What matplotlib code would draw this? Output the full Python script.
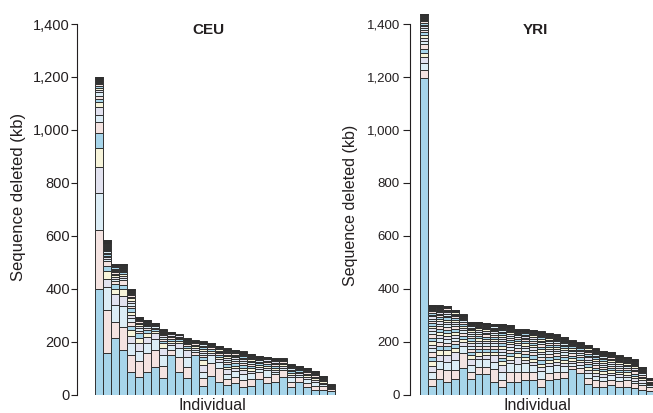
import matplotlib
matplotlib.use("Agg")
import matplotlib.pyplot as plt
import numpy as np

plt.rcParams['font.family'] = ['Liberation Sans', 'DejaVu Sans']

# deletion sizes (kb) per individual, stacked from the bottom up
ceu_segments = [
    [400, 220, 141, 98, 73, 55, 41, 28, 29, 19, 13, 12, 13, 10, 8, 7, 6, 5, 4, 4, 3, 3, 2, 2, 2, 1, 1],
    [158, 161, 87, 32, 29, 19, 18, 8, 7, 6, 6, 5, 5, 5, 4, 4, 4, 3, 3, 3, 3, 3, 2, 2, 2, 2, 2, 1, 1],
    [214, 61, 62, 42, 19, 21, 9, 8, 7, 7, 6, 6, 5, 5, 4, 4, 3, 3, 3, 2, 2, 1, 1],
    [170, 86, 78, 37, 26, 18, 19, 8, 7, 6, 6, 5, 5, 4, 4, 3, 3, 3, 2, 2, 2, 1],
    [86, 63, 46, 25, 23, 15, 16, 14, 13, 12, 12, 11, 10, 9, 8, 7, 6, 5, 4, 4, 3, 3, 2, 2, 1],
    [65, 61, 38, 29, 19, 19, 10, 9, 8, 7, 6, 5, 4, 4, 3, 2, 2, 1, 1],
    [86, 72, 35, 25, 15, 9, 8, 7, 6, 5, 4, 3, 3, 2, 1],
    [105, 65, 38, 23, 8, 7, 6, 5, 4, 3, 3, 2, 1, 1],
    [63, 44, 42, 25, 19, 9, 8, 7, 6, 5, 5, 4, 3, 3, 2, 1],
    [149, 21, 17, 9, 8, 7, 6, 5, 5, 4, 3, 2, 1],
    [86, 57, 31, 19, 8, 7, 6, 5, 4, 2, 1, 1],
    [61, 44, 38, 25, 8, 7, 6, 6, 5, 4, 3, 2, 2, 1],
    [149, 12, 8, 7, 6, 6, 5, 4, 3, 2, 2, 1],
    [33, 28, 25, 25, 19, 10, 9, 8, 8, 7, 6, 6, 5, 4, 3, 2, 2, 1],
    [70, 48, 31, 9, 8, 7, 6, 5, 4, 3, 2, 1, 1],
    [48, 51, 25, 9, 8, 7, 7, 6, 5, 5, 4, 3, 3, 2, 1],
    [36, 21, 19, 19, 10, 9, 8, 8, 7, 7, 6, 6, 5, 4, 3, 2, 2, 1, 1],
    [45, 22, 23, 10, 9, 9, 8, 7, 7, 6, 5, 5, 4, 3, 3, 2, 1, 1],
    [29, 26, 21, 16, 10, 9, 8, 7, 7, 6, 6, 5, 4, 3, 2, 2, 1, 1],
    [32, 25, 23, 10, 9, 8, 8, 7, 6, 6, 5, 4, 4, 3, 2, 1],
    [57, 29, 9, 8, 8, 7, 6, 5, 5, 4, 3, 2, 1, 1],
    [42, 25, 25, 9, 8, 7, 6, 6, 5, 4, 3, 2, 1],
    [48, 28, 9, 8, 8, 7, 6, 6, 5, 4, 3, 2, 2, 1],
    [67, 25, 8, 7, 7, 6, 5, 4, 3, 2, 2, 1],
    [29, 19, 19, 8, 7, 6, 6, 5, 4, 4, 3, 2, 1, 1],
    [48, 17, 8, 7, 6, 5, 5, 4, 3, 2, 1, 1],
    [29, 16, 15, 7, 6, 6, 5, 5, 4, 3, 2, 1, 1],
    [17, 15, 16, 7, 6, 6, 5, 5, 4, 3, 2, 2, 1],
    [17, 15, 7, 6, 5, 5, 4, 4, 3, 2, 1, 1],
    [13, 8, 5, 4, 3, 2, 2, 1],
]

yri_segments = [
    [1195, 32, 24, 23, 18, 15, 17, 12, 12, 11, 9, 8, 8, 7, 7, 6, 6, 5, 5, 4, 4, 3, 3, 2, 1, 1, 1],
    [32, 25, 29, 21, 19, 17, 16, 15, 14, 14, 13, 12, 12, 11, 10, 10, 9, 8, 8, 7, 6, 6, 5, 4, 4, 3, 3, 2, 2, 1, 1, 1],
    [57, 38, 32, 22, 21, 15, 14, 13, 12, 12, 11, 10, 10, 9, 8, 8, 7, 6, 6, 5, 4, 4, 3, 3, 2, 2, 1, 1, 1],
    [46, 46, 32, 25, 19, 14, 14, 13, 12, 12, 11, 11, 10, 9, 9, 8, 7, 7, 6, 5, 5, 4, 3, 3, 2, 1, 1],
    [57, 35, 38, 31, 14, 14, 13, 12, 12, 11, 10, 10, 9, 8, 8, 7, 6, 6, 5, 4, 4, 3, 2, 1, 1],
    [99, 56, 28, 16, 12, 11, 10, 10, 9, 8, 8, 7, 6, 5, 5, 4, 3, 2, 2, 1, 1],
    [57, 29, 25, 25, 13, 12, 12, 11, 10, 10, 9, 8, 8, 7, 6, 6, 5, 5, 4, 3, 3, 2, 2, 1, 1, 1],
    [76, 27, 30, 14, 13, 12, 11, 11, 10, 9, 9, 8, 7, 7, 6, 5, 5, 4, 3, 3, 2, 2, 1],
    [76, 27, 33, 13, 12, 11, 11, 10, 9, 9, 8, 8, 7, 6, 6, 5, 4, 4, 3, 3, 2, 2, 1, 1],
    [48, 47, 29, 25, 12, 11, 11, 10, 9, 9, 8, 7, 7, 6, 5, 5, 4, 4, 3, 2, 2, 1, 1, 1, 1],
    [29, 26, 31, 25, 14, 13, 12, 12, 11, 10, 10, 9, 8, 8, 7, 6, 6, 5, 5, 4, 3, 3, 2, 2, 1, 1, 1, 1, 1],
    [46, 40, 32, 14, 13, 12, 11, 11, 10, 9, 9, 8, 7, 7, 6, 5, 5, 4, 3, 3, 2, 2, 1, 1, 1],
    [46, 40, 30, 27, 12, 11, 10, 10, 9, 8, 7, 7, 6, 5, 5, 4, 3, 2, 2, 1, 1],
    [54, 32, 32, 13, 12, 11, 11, 10, 9, 9, 8, 7, 7, 6, 5, 5, 4, 3, 3, 2, 1, 1, 1],
    [55, 31, 25, 13, 12, 12, 11, 10, 10, 9, 8, 8, 7, 6, 6, 5, 4, 4, 3, 2, 1, 1, 1],
    [29, 28, 33, 14, 13, 12, 12, 11, 10, 10, 9, 8, 8, 7, 6, 6, 5, 4, 4, 3, 2, 2, 1, 1, 1],
    [55, 27, 25, 13, 12, 11, 10, 10, 9, 8, 8, 7, 6, 6, 5, 4, 4, 3, 2, 2, 1, 1, 1, 1],
    [57, 29, 25, 12, 11, 11, 10, 9, 9, 8, 7, 7, 6, 5, 5, 4, 3, 3, 2, 1, 1, 1, 1],
    [61, 25, 21, 12, 11, 10, 10, 9, 8, 8, 7, 6, 6, 5, 4, 4, 3, 2, 2, 1, 1, 1, 1],
    [95, 12, 11, 10, 10, 9, 8, 8, 7, 6, 6, 5, 4, 4, 3, 2, 2, 1, 1, 1],
    [82, 17, 11, 11, 10, 9, 8, 8, 7, 6, 6, 5, 4, 4, 3, 2, 1, 1, 1, 1],
    [40, 21, 21, 11, 11, 10, 9, 9, 8, 7, 7, 6, 5, 5, 4, 3, 3, 2, 2, 1, 1, 1],
    [27, 28, 15, 11, 10, 10, 9, 9, 8, 7, 7, 6, 6, 5, 4, 4, 3, 2, 1, 1, 1],
    [27, 24, 16, 10, 10, 9, 9, 8, 7, 7, 6, 6, 5, 4, 4, 3, 3, 2, 1, 1, 1, 1],
    [36, 19, 17, 10, 9, 9, 8, 8, 7, 6, 6, 5, 4, 4, 3, 3, 2, 1, 1, 1, 1],
    [27, 24, 16, 9, 9, 8, 8, 7, 7, 6, 5, 5, 4, 4, 3, 2, 1, 1, 1, 1],
    [27, 28, 10, 10, 9, 8, 7, 7, 6, 6, 5, 4, 4, 3, 3, 2, 1, 1, 1, 1],
    [23, 19, 10, 10, 9, 8, 8, 7, 6, 6, 5, 5, 4, 3, 3, 2, 2, 1, 1, 1],
    [17, 19, 9, 8, 8, 7, 6, 6, 5, 5, 4, 3, 3, 2, 1, 1, 1],
    [13, 16, 6, 5, 5, 4, 4, 3, 2, 2, 1, 1, 1],
]

panel_titles = ['CEU', 'YRI']
y_ticks = [0, 200, 400, 600, 800, 1000, 1200, 1400]

seg_colors = ['#a7d5ea', '#f4e3e1', '#dcedf6', '#e2e2ef', '#f7f4da']
edge = '#303030'
txt = '#231f20'

W, H = 653, 413
fig = plt.figure(figsize=(W / 100, H / 100), dpi=100)

kb_px = (394.5 - 24) / 1400
y_top = 1480
base = 413 - 394.5


def px_axes(left, right):
    return fig.add_axes([left / W, base / H, (right - left) / W, y_top * kb_px / H])


def draw_stacks(ax, segments):
    for i, segs in enumerate(segments):
        segs = np.array(segs, dtype=float)
        bottoms = np.concatenate([[0], np.cumsum(segs)[:-1]])
        cols = [seg_colors[k % len(seg_colors)] if s >= 3 else '#6a6a6a'
                for k, s in enumerate(segs)]
        ax.bar(np.full(len(segs), i), segs, bottom=bottoms, width=1.0,
               color=cols, edgecolor=edge, linewidth=0.7)


def style(ax, fs, tick_len, pad):
    for s in ['top', 'right', 'bottom']:
        ax.spines[s].set_visible(False)
    ax.spines['left'].set_bounds(0, 1400)
    ax.spines['left'].set_linewidth(0.8)
    ax.spines['left'].set_color(txt)
    ax.set_ylim(0, y_top)
    ax.set_yticks(y_ticks)
    ax.set_yticklabels([f'{v:,}' for v in y_ticks])
    ax.tick_params(axis='y', length=tick_len, width=0.8, color=txt,
                   labelsize=fs, labelcolor=txt, pad=pad)
    ax.set_xticks([])
    ax.patch.set_alpha(0)


# CEU panel: spine at x=77px, bars start at 95px, 8px pitch
ax1 = px_axes(77, 345)
ax1.set_xlim(-0.5 - 18 / 8, -0.5 - 18 / 8 + 268 / 8)
draw_stacks(ax1, ceu_segments)
style(ax1, 10.5, 4, 1)

# YRI panel: spine at x=409.5px, bars start at 420px, 7.8px pitch
ax2 = px_axes(409.5, 653)
ax2.set_xlim(-0.5 - 10.5 / 7.8, -0.5 - 10.5 / 7.8 + 243.5 / 7.8)
draw_stacks(ax2, yri_segments)
style(ax2, 9.5, 5, 2)


def ftext(x, y, s, **kw):
    fig.text(x / W, 1 - y / H, s, color=txt, ha='center', va='center', **kw)


ftext(208, 30, panel_titles[0], fontsize=11, fontweight='bold')
ftext(535, 30, panel_titles[1], fontsize=11, fontweight='bold')
ftext(212, 405, 'Individual', fontsize=11.5)
ftext(537, 405, 'Individual', fontsize=11.5)
ftext(19, 197, 'Sequence deleted (kb)', fontsize=12, rotation=90)
ftext(350, 205, 'Sequence deleted (kb)', fontsize=11.5, rotation=90)

fig.savefig('out.png', dpi=100)
